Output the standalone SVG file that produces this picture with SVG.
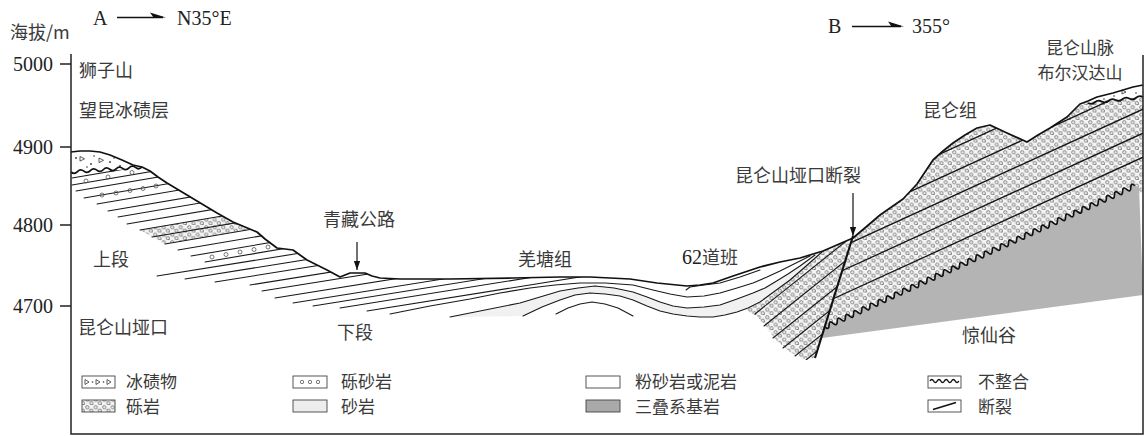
<svg xmlns="http://www.w3.org/2000/svg" width="1145" height="436" viewBox="0 0 1145 436">
<defs>
<style>
.t{font-family:"Noto Sans CJK SC","Noto Sans",sans-serif;font-size:18px;fill:#3a3a3a}
.ts{font-family:"Noto Sans CJK SC","Noto Sans",sans-serif;font-size:17px;fill:#3a3a3a}
.tm{font-family:"Liberation Serif","Noto Sans CJK SC",serif;font-size:20px;fill:#222}
.bed{fill:none;stroke:#1a1a1a;stroke-width:1.1;stroke-linejoin:round;stroke-linecap:round}
.bedk{fill:none;stroke:#151515;stroke-width:1.3;stroke-linecap:round}
.grnd{fill:none;stroke:#111;stroke-width:1.7;stroke-linejoin:round}
.frame{fill:none;stroke:#222;stroke-width:1.5}
.pb{fill:none;stroke:#555;stroke-width:0.8}
.sw{stroke:#444;stroke-width:0.9}
.wav{fill:none;stroke:#111;stroke-width:1.7}
</style>
<pattern id="gravel" width="8.5" height="7.5" patternUnits="userSpaceOnUse">
<rect width="8.5" height="7.5" fill="#f4f4f4"/>
<circle cx="2.2" cy="2.2" r="1.6" fill="none" stroke="#555" stroke-width="0.7"/>
<path d="M3.3,3.3 l1,1" stroke="#555" stroke-width="0.6"/>
<circle cx="6.4" cy="5.7" r="1.6" fill="none" stroke="#555" stroke-width="0.7"/>
<path d="M7.5,6.8 l0.9,0.7" stroke="#555" stroke-width="0.6"/>
</pattern>
<clipPath id="gclip"><path d="M71,152 L80,151 L90,151 L100,152 L110,155 L122,160 L133,165 L142,167 L150,171 L158,177 L167,183 L177,189 L187,195 L197,201 L207,207 L217,213 L233,222 L245,227 L257,232 L265,239 L277,248 L293,250 L300,255 L307,260 L317,265 L327,270 L340,277 L345,275 L350,273 L365,273 L372,276 L380,278 L400,279 L450,279 L513,278 L560,277 L590,277 L610,278 L630,279 L657,283 L687,286 L700,285 L713,283 L733,276 L760,267 L780,262 L800,258 L823,251 L853,238 L866,227 L880,215 L903,199 L917,184 L925,172 L933,160 L943,151 L953,143 L965,135 L977,128 L990,125 L1007,133 L1027,142 L1038,135 L1050,128 L1067,117 L1080,104 L1088,101 L1097,97 L1113,93 L1133,87 L1143,85 L1143,436 L71,436 Z"/></clipPath>
<clipPath id="leftClip"><path d="M71,174 L142,168 L150,171 L158,177 L167,183 L177,189 L187,195 L197,201 L207,207 L217,213 L233,222 L245,227 L257,232 L265,239 L277,248 L293,250 L300,255 L307,260 L317,265 L327,270 L340,277 L345,275 L350,273 L365,273 L372,276 L380,278 L400,279 L450,279 L513,278 L560,277 L590,277 L590,436 L71,436 Z"/></clipPath>
<clipPath id="fwClip"><path d="M853,238 L866,227 L880,215 L903,199 L917,184 L925,172 L933,160 L943,151 L953,143 L965,135 L977,128 L990,125 L1007,133 L1027,142 L1038,135 L1050,128 L1067,117 L1080,104 L1088,103 L1143,97 L1143,192 L822,336 Z"/></clipPath>
<clipPath id="hwClip"><path d="M700,300 L740,273 L760,267 L780,262 L800,258 L823,251 L853,238 L815,360 L700,360 Z"/></clipPath>
<marker id="ah" viewBox="0 0 10 10" refX="10" refY="5" markerWidth="9" markerHeight="9" markerUnits="userSpaceOnUse" orient="auto">
<path d="M0,1.5 L10,5 L0,8.5 Z" fill="#111"/>
</marker>
</defs>

<rect width="1145" height="436" fill="#fff"/>

<!-- sandstone band in the Qiangtang fold -->
<g id="sandstone">
<path fill="#f1f1f1" d="M450,317 L485,310 L520,303 L540,297 L560,291 L578,288 L595,286 L614,288 L633,292 L647,297 L660,302 L673,306 L687,308 L704,307 L720,305 L737,299 L753,293 L765,288 L775,282 L788,274 L800,266 L815,255 L823,251 L805,267 L790,280 L775,291 L760,302 L748,308 L737,312 L725,315 L713,317 L700,317 L687,316 L673,314 L660,311 L647,306 L633,300 L620,296 L605,294 L590,293 L575,295 L560,300 L542,307 L523,316 Z"/>
</g>

<!-- Kunlun Formation conglomerate, hanging wall and footwall -->
<g id="kunlun-fm">
<path fill="url(#gravel)" d="M853,238 L866,227 L880,215 L903,199 L917,184 L925,172 L933,160 L943,151 L953,143 L965,135 L977,128 L990,125 L1007,133 L1027,142 L1038,135 L1050,128 L1067,117 L1080,104 L1088,102 L1143,96 L1143,192 L822,336 Z"/>
<path fill="url(#gravel)" d="M745,310 L760,303 L790,280 L823,251 L853,238 L815,358 L803,359 L790,352 L776,340 L765,326 L757,316 Z"/>
<path class="bedk" clip-path="url(#fwClip)" d="M815,307.1 L1143,157.2 M815,283.1 L1143,133.2 M815,259.1 L1143,109.2 M815,235.1 L1143,85.2 M815,211.1 L1143,61.2"/>
<path class="bed" clip-path="url(#hwClip)" d="M755,314 l110,-88 M764,326 l110,-88 M773,338 l110,-88 M783,348 l110,-88 M795,356 l110,-88 M806,360 l110,-88"/>
</g>

<!-- Triassic basement -->
<g id="triassic">
<path fill="#b4b4b4" d="M825,327 q4.113,3.620 4.077,-1.859 t4.077,-1.859 4.077,-1.859 4.077,-1.859 4.077,-1.859 4.077,-1.859 4.077,-1.859 4.077,-1.859 4.077,-1.859 4.077,-1.859 4.077,-1.859 4.077,-1.859 4.077,-1.859 4.077,-1.859 4.077,-1.859 4.077,-1.859 4.077,-1.859 4.077,-1.859 4.077,-1.859 4.077,-1.859 4.077,-1.859 4.077,-1.859 4.077,-1.859 4.077,-1.859 4.077,-1.859 4.077,-1.859 4.077,-1.859 4.077,-1.859 4.077,-1.859 4.077,-1.859 4.077,-1.859 4.077,-1.859 4.077,-1.859 4.077,-1.859 4.077,-1.859 4.077,-1.859 4.077,-1.859 4.077,-1.859 4.077,-1.859 4.077,-1.859 4.077,-1.859 4.077,-1.859 4.077,-1.859 4.077,-1.859 4.077,-1.859 4.077,-1.859 4.077,-1.859 4.077,-1.859 4.077,-1.859 4.077,-1.859 4.077,-1.859 4.077,-1.859 4.077,-1.859 4.077,-1.859 4.077,-1.859 4.077,-1.859 4.077,-1.859 4.077,-1.859 4.077,-1.859 4.077,-1.859 4.077,-1.859 4.077,-1.859 4.077,-1.859 4.077,-1.859 4.077,-1.859 4.077,-1.859 4.077,-1.859 4.077,-1.859 4.077,-1.859 4.077,-1.859 4.077,-1.859 4.077,-1.859 4.077,-1.859 4.077,-1.859 4.077,-1.859 4.077,-1.859 4.077,-1.859 L1143,295 L822,338 Z"/>
<path class="wav" d="M825,327 q4.113,3.620 4.077,-1.859 t4.077,-1.859 4.077,-1.859 4.077,-1.859 4.077,-1.859 4.077,-1.859 4.077,-1.859 4.077,-1.859 4.077,-1.859 4.077,-1.859 4.077,-1.859 4.077,-1.859 4.077,-1.859 4.077,-1.859 4.077,-1.859 4.077,-1.859 4.077,-1.859 4.077,-1.859 4.077,-1.859 4.077,-1.859 4.077,-1.859 4.077,-1.859 4.077,-1.859 4.077,-1.859 4.077,-1.859 4.077,-1.859 4.077,-1.859 4.077,-1.859 4.077,-1.859 4.077,-1.859 4.077,-1.859 4.077,-1.859 4.077,-1.859 4.077,-1.859 4.077,-1.859 4.077,-1.859 4.077,-1.859 4.077,-1.859 4.077,-1.859 4.077,-1.859 4.077,-1.859 4.077,-1.859 4.077,-1.859 4.077,-1.859 4.077,-1.859 4.077,-1.859 4.077,-1.859 4.077,-1.859 4.077,-1.859 4.077,-1.859 4.077,-1.859 4.077,-1.859 4.077,-1.859 4.077,-1.859 4.077,-1.859 4.077,-1.859 4.077,-1.859 4.077,-1.859 4.077,-1.859 4.077,-1.859 4.077,-1.859 4.077,-1.859 4.077,-1.859 4.077,-1.859 4.077,-1.859 4.077,-1.859 4.077,-1.859 4.077,-1.859 4.077,-1.859 4.077,-1.859 4.077,-1.859 4.077,-1.859 4.077,-1.859 4.077,-1.859 4.077,-1.859 4.077,-1.859"/>
</g>

<!-- Wangkun till: strata of the upper and lower members -->
<g id="wangkun">
<path fill="url(#gravel)" clip-path="url(#leftClip)" d="M140,230 L390,187.5 L415,201.5 L165,244 Z"/>
<path class="bed" clip-path="url(#leftClip)" d="M72,178 l250,-42.5 M72,185 l250,-42.5 M76,191 l250,-42.5 M84,198 l250,-42.5 M97,204 l250,-42.5 M108,211 l250,-42.5 M118,217 l250,-42.5 M127,224 l250,-42.5 M140,230 l250,-42.5 M152,237 l250,-42.5 M165,244 l250,-42.5 M178,250 l250,-42.5 M191,256 l250,-42.5 M205,262 l250,-42.5"/>
<path class="bed" clip-path="url(#leftClip)" d="M157,276 l300,-48 M185,279 l300,-48 M215,282 l300,-48 M250,285 l300,-48 M262,291 l300,-48 M275,298 l300,-48 M293,303 l300,-48 M313,306 l300,-48 M340,308 l300,-48 M367,311 l300,-48"/>
<g class="pb">
<circle cx="86" cy="181" r="2"/><circle cx="108" cy="177" r="2"/><circle cx="132" cy="172.5" r="2"/>
<circle cx="102" cy="195" r="2"/><circle cx="116" cy="193" r="2"/><circle cx="130" cy="190.5" r="2"/><circle cx="143" cy="188.5" r="2"/><circle cx="156" cy="186" r="2"/>
<circle cx="212" cy="257" r="2"/><circle cx="226" cy="254.5" r="2"/><circle cx="240" cy="252" r="2"/><circle cx="254" cy="249.5" r="2"/><circle cx="268" cy="247" r="2"/>
</g>
</g>

<!-- Qiangtang Group fold and 62 Daoban syncline -->
<g id="qiangtang" clip-path="url(#gclip)">
<path class="bed" d="M390,314 L430,306 L470,299 L500,293 L530,288 L555,285 L580,283 L605,283 L633,285 L653,290 L670,294 L687,297 L704,296 L720,293 L737,288 L753,283 L767,277 L780,271 L792,265 L800,261 L810,256"/>
<path class="bed" d="M450,317 L485,310 L520,303 L540,297 L560,291 L578,288 L595,286 L614,288 L633,292 L647,297 L660,302 L673,306 L687,308 L704,307 L720,305 L737,299 L753,293 L765,288 L775,282 L788,274 L800,266 L815,255"/>
<path class="bed" d="M523,316 L542,307 L560,300 L575,295 L590,293 L605,294 L620,296 L633,300 L647,306 L660,311 L673,314 L687,316 L700,317 L713,317 L725,315 L737,312 L748,308 L760,302 L775,291 L790,280 L805,267 L823,251"/>
<path class="bed" d="M556,314 L568,308 L580,304 L592,302 L605,304 L618,308 L633,316"/>
<path class="bed" d="M686,290 L690,287 L704,285 L720,283 L740,277 L760,270"/>
</g>

<!-- glacial till caps -->
<g id="till">
<path fill="#fff" d="M71,152 L80,151 L90,151 L100,152 L110,155 L122,160 L133,165 L142,167 L71,172 Z"/>
<path fill="#fff" d="M1088,101 L1097,97 L1113,93 L1133,87 L1143,85 L1143,97 Z"/>
<g fill="none" stroke="#333" stroke-width="0.8">
<path d="M80,156.5 l4.5,2.3 l-4.5,2.3 z"/><path d="M99,158 l4.5,2.3 l-4.5,2.3 z"/><path d="M1122,90 l4,2 l-4,2 z"/>
</g>
<g fill="#333">
<circle cx="76" cy="158" r="0.9"/><circle cx="91" cy="164" r="0.9"/><circle cx="94" cy="156" r="0.8"/><circle cx="110" cy="162" r="0.9"/><circle cx="120" cy="166" r="0.9"/><circle cx="114" cy="158" r="0.8"/><circle cx="87" cy="167" r="0.8"/>
<circle cx="1104" cy="99" r="0.8"/><circle cx="1114" cy="96" r="0.8"/><circle cx="1136" cy="93" r="0.8"/>
</g>
<path class="wav" d="M71,172 q3.4,2.8 6.45,-0.455 t6.45,-0.455 6.45,-0.455 6.45,-0.455 6.45,-0.455 6.45,-0.455 6.45,-0.455 6.45,-0.455 6.45,-0.455 6.45,-0.455 6.45,-0.455"/>
<path class="wav" d="M1088,103 q3.74,2.13 6.875,-0.75 t6.875,-0.75 6.875,-0.75 6.875,-0.75 6.875,-0.75 6.875,-0.75 6.875,-0.75 6.875,-0.75"/>
</g>

<!-- ground surface and Kunlun Pass fault -->
<g id="surface">
<path class="grnd" d="M71,152 L80,151 L90,151 L100,152 L110,155 L122,160 L133,165 L142,167 L150,171 L158,177 L167,183 L177,189 L187,195 L197,201 L207,207 L217,213 L233,222 L245,227 L257,232 L265,239 L277,248 L293,250 L300,255 L307,260 L317,265 L327,270 L340,277 L345,275 L350,273 L365,273 L372,276 L380,278 L400,279 L450,279 L513,278 L560,277 L590,277 L610,278 L630,279 L657,283 L687,286 L700,285 L713,283 L733,276 L760,267 L780,262 L800,258 L823,251 L853,238 L866,227 L880,215 L903,199 L917,184 L925,172 L933,160 L943,151 L953,143 L965,135 L977,128 L990,125 L1007,133 L1027,142 L1038,135 L1050,128 L1067,117 L1080,104 L1088,101 L1097,97 L1113,93 L1133,87 L1143,85"/>
<path d="M853,236 L815,358" stroke="#111" stroke-width="2.1" fill="none"/>
</g>

<!-- frame and elevation axis -->
<g id="axis">
<path class="frame" d="M71,54 V434 H1143 V55"/>
<path class="frame" d="M60,64 H71 M60,147 H71 M60,225 H71 M60,306 H71"/>
<text class="tm" x="53" y="71" text-anchor="end">5000</text>
<text class="tm" x="53" y="154" text-anchor="end">4900</text>
<text class="tm" x="53" y="232" text-anchor="end">4800</text>
<text class="tm" x="53" y="313" text-anchor="end">4700</text>
<text class="t" x="10" y="39">海拔/m</text>
</g>

<!-- section orientation -->
<g id="orientation">
<text class="tm" x="93" y="25">A</text>
<path d="M117,17.5 H163" stroke="#111" stroke-width="1.3"/>
<path d="M166,17.5 L150,12.6 L153.5,17.5 Z" fill="#111"/>
<text class="tm" x="177" y="25">N35°E</text>
<text class="tm" x="828" y="33">B</text>
<path d="M852,26.5 H901" stroke="#111" stroke-width="1.3"/>
<path d="M904,26.5 L888,21.6 L891.5,26.5 Z" fill="#111"/>
<text class="tm" x="912" y="33">355°</text>
</g>

<!-- pointer arrows -->
<g id="pointers" stroke="#111" stroke-width="1.2">
<path d="M357,242 V270" marker-end="url(#ah)"/>
<path d="M853,193 V236" marker-end="url(#ah)"/>
</g>

<!-- place and unit names -->
<g id="labels">
<text class="t" x="79" y="76.5">狮子山</text>
<text class="t" x="79" y="116.5">望昆冰碛层</text>
<text class="t" x="93" y="265.5">上段</text>
<text class="t" x="78" y="333.5">昆仑山垭口</text>
<text class="t" x="323" y="225.5">青藏公路</text>
<text class="t" x="337" y="338.5">下段</text>
<text class="t" x="518" y="265.5">羌塘组</text>
<text class="tm" x="682" y="264">62<tspan class="t">道班</tspan></text>
<text class="t" x="735" y="181.5">昆仑山垭口断裂</text>
<text class="t" x="923" y="116.5">昆仑组</text>
<text class="ts" x="1080" y="54" text-anchor="middle">昆仑山脉</text>
<text class="ts" x="1080" y="78.5" text-anchor="middle">布尔汉达山</text>
<text class="t" x="962" y="341.5">惊仙谷</text>
</g>

<!-- legend -->
<g id="legend">
<g id="lg-till">
<rect class="sw" x="82" y="376" width="33" height="12" fill="#fff"/>
<g fill="none" stroke="#333" stroke-width="0.8"><path d="M85,379.5 l4,2.5 l-4,2.5 z"/><path d="M96,379.5 l4,2.5 l-4,2.5 z"/><path d="M107,379.5 l4,2.5 l-4,2.5 z"/></g>
<circle cx="92.5" cy="382" r="0.8" fill="#333"/><circle cx="103.5" cy="382" r="0.8" fill="#333"/>
<text class="ts" x="126" y="388">冰碛物</text>
</g>
<g id="lg-cong">
<rect class="sw" x="82" y="400" width="33" height="12" fill="url(#gravel)"/>
<text class="ts" x="126" y="413">砾岩</text>
</g>
<g id="lg-pebbly">
<rect class="sw" x="293" y="376" width="34" height="12" fill="#fff"/>
<g class="pb"><circle cx="302" cy="382" r="1.7"/><circle cx="310" cy="382" r="1.7"/><circle cx="318" cy="382" r="1.7"/></g>
<text class="ts" x="341" y="388">砾砂岩</text>
</g>
<g id="lg-sand">
<rect class="sw" x="293" y="400" width="34" height="12" fill="#ededed"/>
<text class="ts" x="341" y="413">砂岩</text>
</g>
<g id="lg-silt">
<rect class="sw" x="586" y="376" width="34" height="12" fill="#fff"/>
<text class="ts" x="635" y="388">粉砂岩或泥岩</text>
</g>
<g id="lg-trias">
<rect class="sw" x="586" y="400" width="34" height="12" fill="#a9a9a9"/>
<text class="ts" x="635" y="413">三叠系基岩</text>
</g>
<g id="lg-uncon">
<rect class="sw" x="928" y="376" width="33" height="12" fill="#fff"/>
<path d="M930,381 q1.8,-3.2 3.6,0 t3.6,0 3.6,0 3.6,0 3.6,0 3.6,0 3.6,0 3.6,0" fill="none" stroke="#111" stroke-width="1.5"/>
<text class="ts" x="978" y="388">不整合</text>
</g>
<g id="lg-fault">
<rect class="sw" x="928" y="400" width="33" height="12" fill="#fff"/>
<path d="M933,409.5 L956,402.5" stroke="#111" stroke-width="1.6"/>
<text class="ts" x="978" y="413">断裂</text>
</g>
</g>
</svg>
